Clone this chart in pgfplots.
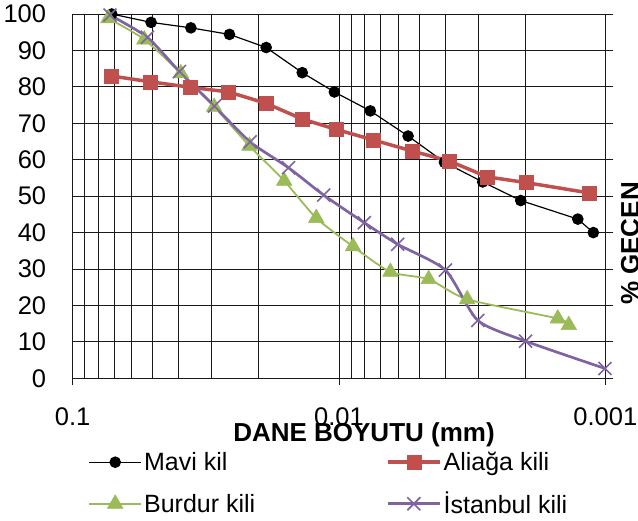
\documentclass[border=0pt]{standalone}
\usepackage{pgfplots}
\pgfplotsset{compat=1.18}
\usepackage{fontspec}
\setmainfont{Liberation Sans}
\definecolor{cred}{HTML}{C0504D}
\definecolor{cgreen}{HTML}{9BBB59}
\definecolor{cpurple}{HTML}{8064A2}
\definecolor{cgrid}{HTML}{1A1A1A}
\begin{document}
\begin{tikzpicture}
\begin{axis}[
  at={(343bp,-196.15bp)}, anchor=center,
  width=540.6bp, height=364.3bp, scale only axis,
  xmode=log, x dir=reverse,
  xmin=0.000933, xmax=0.1,
  ymin=0, ymax=100,
  xtick={0.1,0.01,0.001}, xticklabels={0.1,0.01,0.001},
  minor xtick={0.002,0.003,0.004,0.005,0.006,0.007,0.008,0.009,0.02,0.03,0.04,0.05,0.06,0.07,0.08,0.09},
  ytick={0,10,...,100},
  xmajorgrids, xminorgrids, ymajorgrids,
  major grid style={cgrid, line width=0.9bp},
  minor grid style={cgrid, line width=0.9bp},
  axis line style={draw=none},
  xtick pos=bottom, ytick pos=left,
  tick align=outside, major tick length=7bp, minor tick length=0pt,
  xtick style={cgrid, line width=0.9bp}, ytick style={draw=none},
  /pgf/number format/assume math mode=true,
  ticklabel style={font=\fontsize{25.5bp}{26bp}\selectfont},
  yticklabel style={anchor=east, inner sep=0pt, xshift=-19.4bp},
  xticklabel style={anchor=north, inner sep=0pt, yshift=-22.2bp},
  legend columns=2,
  legend cell align=left,
  legend style={draw=none, fill=none, inner sep=0pt, outer sep=0pt,
    at={(axis description cs:0.02886,-0.2896)}, anchor=west,
    font=\fontsize{25bp}{26bp}\selectfont, row sep=16bp,
    nodes={inner sep=2bp}},
  legend image code/.code={\draw[mark repeat=2,mark phase=2,#1] plot coordinates {(0bp,0bp) (26bp,0bp) (52bp,0bp)};},
]
\addplot[black, line width=1.2bp, mark=*, mark size=5.2bp, mark options={fill=black}] coordinates {
(0.07135,100.0) (0.05078,97.7) (0.03600,96.2) (0.02578,94.4) (0.01877,90.8)
(0.01374,83.9) (0.01041,78.6) (0.007625,73.4) (0.005502,66.5) (0.004019,59.3)
(0.002886,53.9) (0.002077,48.8) (0.001268,43.7) (0.001109,40.0)};
\addlegendentry{\makebox[240bp][l]{Mavi kil}}
\addplot[cred, line width=3.5bp, mark=square*, mark size=7bp, mark options={fill=cred, line width=0.5bp}] coordinates {
(0.07178,83.0) (0.05123,81.4) (0.03623,79.9) (0.02600,78.6) (0.01882,75.5)
(0.01377,71.2) (0.01024,68.3) (0.007413,65.4) (0.005316,62.4) (0.003839,59.6)
(0.002777,55.3) (0.001976,53.7) (0.001152,50.9)};
\addlegendentry{Aliağa kili}
\addplot[cgreen, line width=1.8bp, smooth, tension=0.4, mark=triangle*, mark size=9bp, mark options={fill=cgreen, line width=0.5bp}] coordinates {
(0.07346,98.8) (0.05381,93.0) (0.03926,83.7) (0.02943,74.5) (0.02169,63.8)
(0.01606,54.2) (0.01217,44.0) (0.008859,36.2) (0.006413,29.2) (0.004604,27.2)
(0.003302,21.7) (0.001508,16.4) (0.001371,14.6)};
\addlegendentry{\makebox[240bp][l]{Burdur kili}}
\addplot[cpurple, line width=2.7bp, smooth, tension=0.4, mark=x, mark size=9.2bp, mark options={line width=1.6bp}] coordinates {
(0.07244,99.7) (0.05243,93.6) (0.03973,84.2) (0.02936,74.7) (0.02156,64.9)
(0.01547,57.8) (0.01142,50.3) (0.008033,42.7) (0.006021,36.8) (0.003986,29.7)
(0.003012,15.9) (0.001993,10.2) (0.001003,2.7)};
\addlegendentry{İstanbul kili}
\end{axis}
\draw[cgrid, line width=1bp] (72.7bp,-14bp) -- (72.7bp,-378.3bp) -- (613.3bp,-378.3bp);
\node[anchor=base, inner sep=0pt, font=\bfseries\fontsize{26bp}{26bp}\selectfont] at (364bp,-441.7bp) {DANE BOYUTU (mm)};
\node[anchor=base, inner sep=0pt, rotate=90, font=\bfseries\fontsize{26bp}{26bp}\selectfont] at (639bp,-243.5bp) {\% GEÇEN};
\pgfresetboundingbox
\useasboundingbox (0bp,0bp) rectangle (638bp,-521bp);
\end{tikzpicture}
\end{document}
